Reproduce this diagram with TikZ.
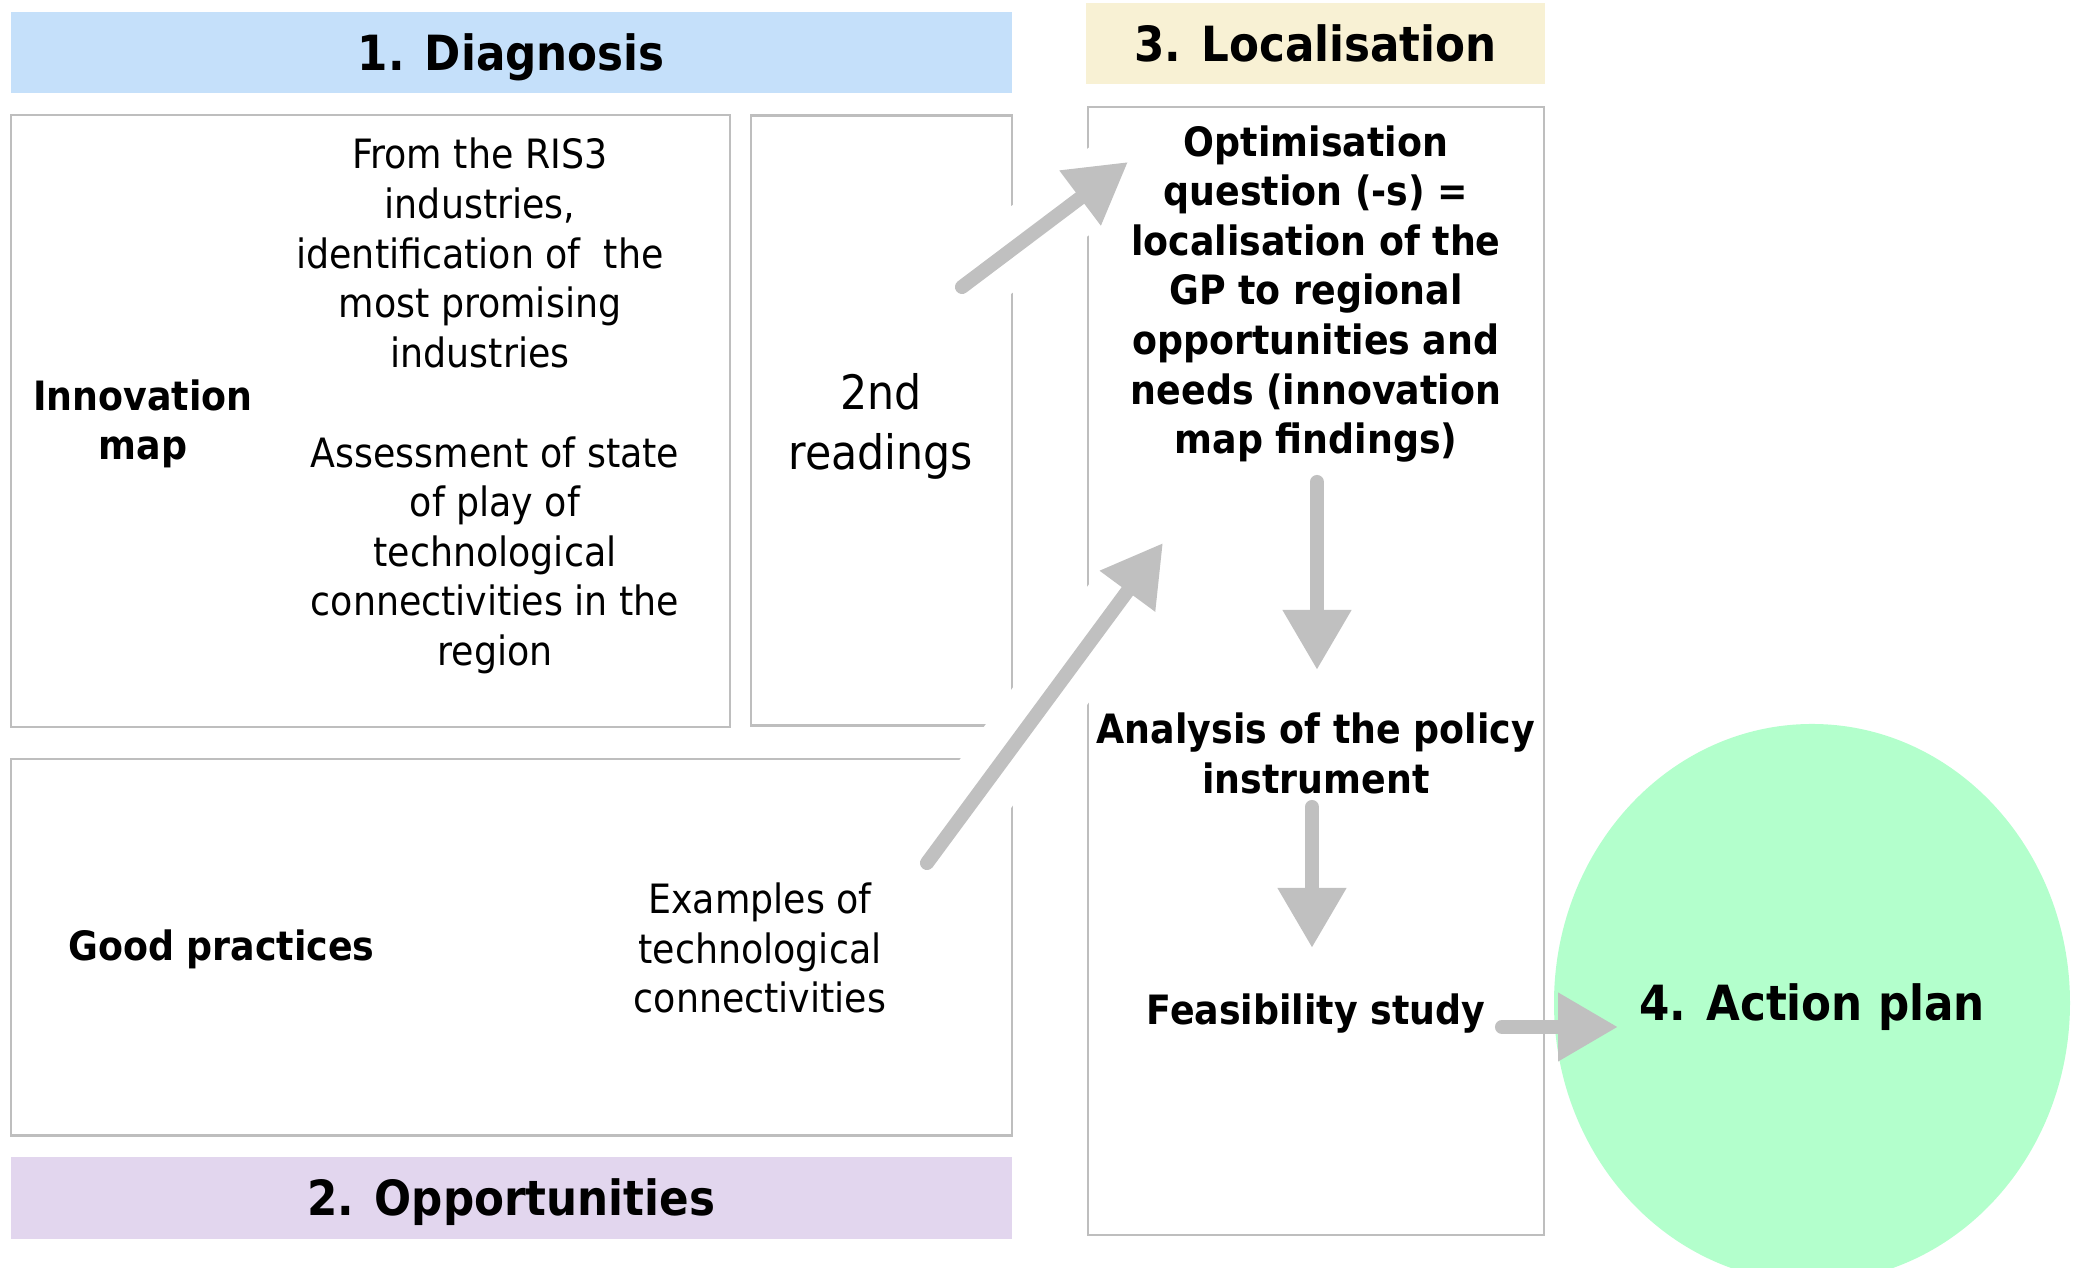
\documentclass[tikz,border=0pt]{standalone}
\usepackage{fontspec}
\setmainfont{DejaVu Sans Condensed}[BoldFont={DejaVu Sans Condensed Bold}]
\usetikzlibrary{arrows.meta,shapes.geometric}

\definecolor{diagblue}{RGB}{197,224,250}
\definecolor{loccream}{RGB}{248,241,212}
\definecolor{opplilac}{RGB}{226,214,238}
\definecolor{planmint}{RGB}{179,255,204}
\definecolor{framegray}{RGB}{190,190,190}
\definecolor{arrowgray}{RGB}{192,192,192}

\begin{document}
\begin{tikzpicture}[
    header/.style={rectangle,inner sep=0pt,text height=0.36cm,text depth=0cm,font=\fontsize{13.8}{16}\selectfont\bfseries},
    frame/.style={rectangle,draw=framegray,line width=0.6pt,inner sep=0pt},
    txt/.style={align=center,inner sep=0pt,font=\fontsize{11.5}{14.1}\selectfont},
    btxt/.style={txt,font=\fontsize{11.5}{14.1}\selectfont\bfseries},
    fat/.style={arrowgray,line width=4pt,line cap=round,-{Triangle[length=6mm,width=6.5mm]}},
    halo/.style={preaction={draw=white,line width=7mm,line cap=butt,-}}
  ]
  \useasboundingbox (0,0) rectangle (20.8,12.68);

  \node[header,fill=diagblue,minimum width=10.014cm,minimum height=0.81cm] (diag) at (5.113,12.155) {1. Diagnosis};
  \node[header,fill=opplilac,minimum width=10.014cm,minimum height=0.823cm] (opp) at (5.113,0.70) {2. Opportunities};
  \node[header,fill=loccream,minimum width=4.59cm,minimum height=0.81cm] (loc) at (13.155,12.245) {3. Localisation};

  \node[frame,minimum width=7.194cm,minimum height=6.116cm] (innov) at (3.703,8.468) {};
  \node[frame,minimum width=2.61cm,minimum height=6.10cm] (second) at (8.815,8.475) {};
  \node[frame,minimum width=10.014cm,minimum height=3.767cm] (good) at (5.113,3.2085) {};
  \node[frame,minimum width=4.56cm,minimum height=11.276cm] (locbox) at (13.16,5.968) {};
  \node[ellipse,fill=planmint,inner sep=0pt,minimum width=5.16cm,minimum height=5.58cm,
        text height=0.36cm,text depth=0cm,font=\fontsize{13.8}{16}\selectfont\bfseries] (plan) at (18.12,2.65) {4. Action plan};

  \node[btxt] (innovlbl) at (1.43,8.44) {Innovation\\map};
  \node[txt] (ris) at (4.80,10.15) {From the RIS3\\industries,\\identification of~ the\\most promising\\industries};
  \node[txt] (assess) at (4.95,7.13) {Assessment of state\\of play of\\technological\\connectivities in the\\region};
  \node[txt,font=\fontsize{13.5}{17}\selectfont] (readings) at (8.81,8.415) {2nd\\readings};
  \node[btxt] (gplbl) at (2.215,3.183) {Good practices};
  \node[txt] (examples) at (7.60,3.20) {Examples of\\technological\\connectivities};
  \node[btxt] (optim) at (13.16,9.74) {Optimisation\\question (-s) =\\localisation of the\\GP to regional\\opportunities and\\needs (innovation\\map findings)};
  \node[btxt] (analysis) at (13.16,5.145) {Analysis of the policy\\instrument};
  \node[btxt] (feas) at (13.16,2.543) {Feasibility study};

  \coordinate (up1s) at (9.62,9.81);
  \coordinate (up1e) at (11.28,11.06);
  \coordinate (up2s) at (9.27,4.05);
  \coordinate (up2e) at (11.63,7.25);
  \coordinate (dn1s) at (13.17,7.86);
  \coordinate (dn1e) at (13.17,5.98);
  \coordinate (dn2s) at (13.12,4.61);
  \coordinate (dn2e) at (13.12,3.20);
  \coordinate (rts) at (15.02,2.41);
  \coordinate (rte) at (16.18,2.41);

  \draw[fat,halo] (up1s) -- (up1e);
  \draw[fat,halo] (up2s) -- (up2e);
  \draw[fat] (dn1s) -- (dn1e);
  \draw[fat] (dn2s) -- (dn2e);
  \draw[fat] (rts) -- (rte);
\end{tikzpicture}
\end{document}
